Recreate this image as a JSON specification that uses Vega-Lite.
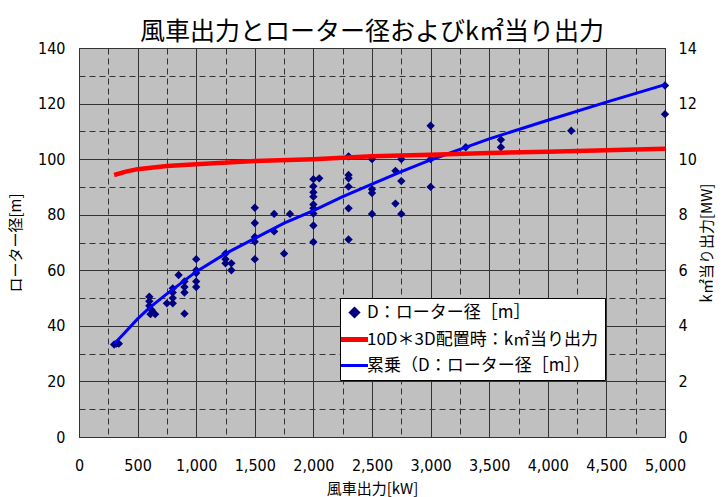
{
  "$schema": "https://vega.github.io/schema/vega-lite/v6.json",
  "autosize": "none",
  "width": 586,
  "height": 389,
  "padding": {"left": 79, "top": 48, "right": 59, "bottom": 60},
  "background": "white",
  "title": {
    "text": "風車出力とローター径およびk㎡当り出力",
    "font": "Noto Sans CJK JP",
    "fontSize": 25,
    "fontWeight": "normal",
    "color": "black",
    "anchor": "middle",
    "offset": -5
  },
  "config": {
    "view": {"stroke": "#333333", "strokeWidth": 1, "fill": "#C0C0C0"},
    "axis": {
      "labelFont": "DejaVu Sans Condensed",
      "labelFontSize": 16,
      "labelColor": "black",
      "labelFlush": false,
      "titleFont": "Noto Sans CJK JP",
      "titleFontSize": 15,
      "titleFontWeight": "normal",
      "titleColor": "black",
      "ticks": false,
      "domain": false,
      "gridColor": "#333333",
      "gridOpacity": 1,
      "gridWidth": 1
    }
  },
  "datasets": {
    "pts": [
      {"kw": 300, "d": 33.3, "series": "D：ローター径［m］"},
      {"kw": 320, "d": 33.6, "series": "D：ローター径［m］"},
      {"kw": 340, "d": 33.6, "series": "D：ローター径［m］"},
      {"kw": 600, "d": 50.5, "series": "D：ローター径［m］"},
      {"kw": 600, "d": 48.9, "series": "D：ローター径［m］"},
      {"kw": 600, "d": 47.2, "series": "D：ローター径［m］"},
      {"kw": 620, "d": 45.7, "series": "D：ローター径［m］"},
      {"kw": 610, "d": 44.2, "series": "D：ローター径［m］"},
      {"kw": 650, "d": 44.2, "series": "D：ローター径［m］"},
      {"kw": 750, "d": 48.1, "series": "D：ローター径［m］"},
      {"kw": 800, "d": 48.1, "series": "D：ローター径［m］"},
      {"kw": 800, "d": 50, "series": "D：ローター径［m］"},
      {"kw": 800, "d": 52, "series": "D：ローター径［m］"},
      {"kw": 800, "d": 53.5, "series": "D：ローター径［m］"},
      {"kw": 850, "d": 58.3, "series": "D：ローター径［m］"},
      {"kw": 900, "d": 52, "series": "D：ローター径［m］"},
      {"kw": 900, "d": 54, "series": "D：ローター径［m］"},
      {"kw": 900, "d": 56, "series": "D：ローター径［m］"},
      {"kw": 900, "d": 44.4, "series": "D：ローター径［m］"},
      {"kw": 1000, "d": 64, "series": "D：ローター径［m］"},
      {"kw": 1000, "d": 60, "series": "D：ローター径［m］"},
      {"kw": 1000, "d": 59, "series": "D：ローター径［m］"},
      {"kw": 1000, "d": 56, "series": "D：ローター径［m］"},
      {"kw": 1000, "d": 54, "series": "D：ローター径［m］"},
      {"kw": 1250, "d": 66, "series": "D：ローター径［m］"},
      {"kw": 1250, "d": 64, "series": "D：ローター径［m］"},
      {"kw": 1250, "d": 62.5, "series": "D：ローター径［m］"},
      {"kw": 1300, "d": 62.5, "series": "D：ローター径［m］"},
      {"kw": 1300, "d": 60, "series": "D：ローター径［m］"},
      {"kw": 1500, "d": 82.5, "series": "D：ローター径［m］"},
      {"kw": 1500, "d": 77, "series": "D：ローター径［m］"},
      {"kw": 1500, "d": 72, "series": "D：ローター径［m］"},
      {"kw": 1500, "d": 70.3, "series": "D：ローター径［m］"},
      {"kw": 1500, "d": 64, "series": "D：ローター径［m］"},
      {"kw": 1665, "d": 80.3, "series": "D：ローター径［m］"},
      {"kw": 1665, "d": 74, "series": "D：ローター径［m］"},
      {"kw": 1750, "d": 66, "series": "D：ローター径［m］"},
      {"kw": 1800, "d": 80.3, "series": "D：ローター径［m］"},
      {"kw": 2000, "d": 92.8, "series": "D：ローター径［m］"},
      {"kw": 2000, "d": 90.2, "series": "D：ローター径［m］"},
      {"kw": 2000, "d": 88.1, "series": "D：ローター径［m］"},
      {"kw": 2000, "d": 86.5, "series": "D：ローター径［m］"},
      {"kw": 2000, "d": 83.7, "series": "D：ローター径［m］"},
      {"kw": 2000, "d": 82.3, "series": "D：ローター径［m］"},
      {"kw": 2000, "d": 80.4, "series": "D：ローター径［m］"},
      {"kw": 2000, "d": 76.1, "series": "D：ローター径［m］"},
      {"kw": 2000, "d": 70.2, "series": "D：ローター径［m］"},
      {"kw": 2050, "d": 93.1, "series": "D：ローター径［m］"},
      {"kw": 2300, "d": 101, "series": "D：ローター径［m］"},
      {"kw": 2300, "d": 94.3, "series": "D：ローター径［m］"},
      {"kw": 2300, "d": 93.1, "series": "D：ローター径［m］"},
      {"kw": 2300, "d": 90.1, "series": "D：ローター径［m］"},
      {"kw": 2300, "d": 82.3, "series": "D：ローター径［m］"},
      {"kw": 2300, "d": 71.1, "series": "D：ローター径［m］"},
      {"kw": 2500, "d": 100, "series": "D：ローター径［m］"},
      {"kw": 2500, "d": 89.2, "series": "D：ローター径［m］"},
      {"kw": 2500, "d": 87.8, "series": "D：ローター径［m］"},
      {"kw": 2500, "d": 80.3, "series": "D：ローター径［m］"},
      {"kw": 2700, "d": 95.8, "series": "D：ローター径［m］"},
      {"kw": 2700, "d": 84, "series": "D：ローター径［m］"},
      {"kw": 2750, "d": 100, "series": "D：ローター径［m］"},
      {"kw": 2750, "d": 92.1, "series": "D：ローター径［m］"},
      {"kw": 2750, "d": 80.3, "series": "D：ローター径［m］"},
      {"kw": 3000, "d": 112, "series": "D：ローター径［m］"},
      {"kw": 3000, "d": 100, "series": "D：ローター径［m］"},
      {"kw": 3000, "d": 90, "series": "D：ローター径［m］"},
      {"kw": 3300, "d": 104.3, "series": "D：ローター径［m］"},
      {"kw": 3600, "d": 107, "series": "D：ローター径［m］"},
      {"kw": 3600, "d": 104.3, "series": "D：ローター径［m］"},
      {"kw": 4200, "d": 110.2, "series": "D：ローター径［m］"},
      {"kw": 5000, "d": 126.5, "series": "D：ローター径［m］"},
      {"kw": 5000, "d": 116.2, "series": "D：ローター径［m］"}
    ],
    "fit": [
      {"kw": 300, "d": 33.5, "series": "累乗（D：ローター径［m］）"},
      {"kw": 400, "d": 38, "series": "累乗（D：ローター径［m］）"},
      {"kw": 500, "d": 42.5, "series": "累乗（D：ローター径［m］）"},
      {"kw": 600, "d": 46.5, "series": "累乗（D：ローター径［m］）"},
      {"kw": 750, "d": 51.5, "series": "累乗（D：ローター径［m］）"},
      {"kw": 1000, "d": 59.5, "series": "累乗（D：ローター径［m］）"},
      {"kw": 1250, "d": 66, "series": "累乗（D：ローター径［m］）"},
      {"kw": 1500, "d": 71.5, "series": "累乗（D：ローター径［m］）"},
      {"kw": 1750, "d": 77, "series": "累乗（D：ローター径［m］）"},
      {"kw": 2000, "d": 81.5, "series": "累乗（D：ローター径［m］）"},
      {"kw": 2250, "d": 86.5, "series": "累乗（D：ローター径［m］）"},
      {"kw": 2500, "d": 91, "series": "累乗（D：ローター径［m］）"},
      {"kw": 2750, "d": 95.5, "series": "累乗（D：ローター径［m］）"},
      {"kw": 3000, "d": 99.7, "series": "累乗（D：ローター径［m］）"},
      {"kw": 3250, "d": 103.5, "series": "累乗（D：ローター径［m］）"},
      {"kw": 3500, "d": 107.3, "series": "累乗（D：ローター径［m］）"},
      {"kw": 4000, "d": 114, "series": "累乗（D：ローター径［m］）"},
      {"kw": 4500, "d": 120.5, "series": "累乗（D：ローター径［m］）"},
      {"kw": 5000, "d": 126.8, "series": "累乗（D：ローター径［m］）"}
    ],
    "red": [
      {"kw": 300, "mw": 9.43, "series": "10D＊3D配置時：k㎡当り出力"},
      {"kw": 400, "mw": 9.55, "series": "10D＊3D配置時：k㎡当り出力"},
      {"kw": 500, "mw": 9.64, "series": "10D＊3D配置時：k㎡当り出力"},
      {"kw": 750, "mw": 9.75, "series": "10D＊3D配置時：k㎡当り出力"},
      {"kw": 1000, "mw": 9.82, "series": "10D＊3D配置時：k㎡当り出力"},
      {"kw": 1500, "mw": 9.93, "series": "10D＊3D配置時：k㎡当り出力"},
      {"kw": 2000, "mw": 10.0, "series": "10D＊3D配置時：k㎡当り出力"},
      {"kw": 2500, "mw": 10.1, "series": "10D＊3D配置時：k㎡当り出力"},
      {"kw": 3000, "mw": 10.16, "series": "10D＊3D配置時：k㎡当り出力"},
      {"kw": 3500, "mw": 10.22, "series": "10D＊3D配置時：k㎡当り出力"},
      {"kw": 4000, "mw": 10.27, "series": "10D＊3D配置時：k㎡当り出力"},
      {"kw": 4500, "mw": 10.32, "series": "10D＊3D配置時：k㎡当り出力"},
      {"kw": 5000, "mw": 10.37, "series": "10D＊3D配置時：k㎡当り出力"}
    ]
  },
  "layer": [
    {
      "data": {"name": "fit"},
      "mark": {"type": "line", "opacity": 0},
      "encoding": {
        "x": {
          "field": "kw", "type": "quantitative",
          "scale": {"domain": [0, 5000], "nice": false, "zero": false},
          "axis": {
            "title": null,
            "orient": "bottom",
            "values": [250,750,1250,1750,2250,2750,3250,3750,4250,4750],
            "labels": false,
            "grid": true,
            "gridDash": [6, 4]
          }
        },
        "y": {
          "field": "d", "type": "quantitative",
          "scale": {"domain": [0, 140], "nice": false},
          "axis": {
            "title": null,
            "orient": "left",
            "values": [10,30,50,70,90,110,130],
            "labels": false,
            "grid": true,
            "gridDash": [6, 4]
          }
        }
      }
    },
    {
      "data": {"name": "pts"},
      "mark": {"type": "point", "shape": "diamond", "filled": true, "size": 70, "opacity": 1},
      "encoding": {
        "x": {"field": "kw", "type": "quantitative", "scale": {"domain": [0, 5000], "nice": false, "zero": false}, "axis": null},
        "y": {"field": "d", "type": "quantitative", "scale": {"domain": [0, 140], "nice": false}, "axis": null},
        "color": {"field": "series", "type": "nominal"}
      }
    },
    {
      "data": {"name": "fit"},
      "mark": {"type": "line", "strokeWidth": 3},
      "encoding": {
        "x": {
          "field": "kw", "type": "quantitative",
          "scale": {"domain": [0, 5000], "nice": false, "zero": false},
          "axis": {
            "title": "風車出力[kW]",
            "orient": "bottom",
            "values": [0,500,1000,1500,2000,2500,3000,3500,4000,4500,5000],
            "labelExpr": "format(datum.value, ',')",
            "labelPadding": 20,
            "titlePadding": 8,
            "grid": true
          }
        },
        "y": {
          "field": "d", "type": "quantitative",
          "scale": {"domain": [0, 140], "nice": false},
          "axis": {
            "title": "ローター径[m]",
            "orient": "left",
            "values": [0,20,40,60,80,100,120,140],
            "labelPadding": 14,
            "titlePadding": 14,
            "grid": true
          }
        },
        "color": {
          "field": "series", "type": "nominal",
          "scale": {
            "domain": ["D：ローター径［m］", "10D＊3D配置時：k㎡当り出力", "累乗（D：ローター径［m］）"],
            "range": ["#000080", "#FF0000", "#0000FF"]
          },
          "legend": {
            "title": null,
            "orient": "none",
            "legendX": 261,
            "legendY": 250,
            "fillColor": "white",
            "strokeColor": "black",
            "padding": 6,
            "labelFont": "Noto Sans CJK JP",
            "labelFontSize": 17,
            "labelColor": "black",
            "labelLimit": 400,
            "rowPadding": 6,
            "symbolSize": 729,
            "symbolType": "stroke",
            "symbolStrokeWidth": 3,
            "labelOffset": 4,
            "encode": {
              "symbols": {
                "update": {
                  "shape": {"signal": "datum.index === 0 ? 'diamond' : 'stroke'"},
                  "size": {"signal": "datum.index === 0 ? 64 : 729"},
                  "fill": {"signal": "datum.index === 0 ? '#000080' : 'transparent'"},
                  "stroke": {"signal": "datum.index === 0 ? 'transparent' : (datum.index === 1 ? '#FF0000' : '#0000FF')"},
                  "strokeWidth": {"signal": "datum.index === 1 ? 5 : 3"}
                }
              }
            }
          }
        }
      }
    },
    {
      "data": {"name": "red"},
      "mark": {"type": "line", "strokeWidth": 4.5},
      "encoding": {
        "x": {"field": "kw", "type": "quantitative", "scale": {"domain": [0, 5000], "nice": false, "zero": false}, "axis": null},
        "y": {
          "field": "mw", "type": "quantitative",
          "scale": {"domain": [0, 14], "nice": false},
          "axis": {
            "title": "k㎡当り出力[MW]",
            "orient": "right",
            "values": [0,2,4,6,8,10,12,14],
            "labelPadding": 13,
            "titlePadding": 18,
            "titleAngle": 270,
            "grid": false
          }
        },
        "color": {"field": "series", "type": "nominal"}
      }
    }
  ],
  "resolve": {"scale": {"y": "independent"}, "axis": {"x": "independent", "y": "independent"}}
}
